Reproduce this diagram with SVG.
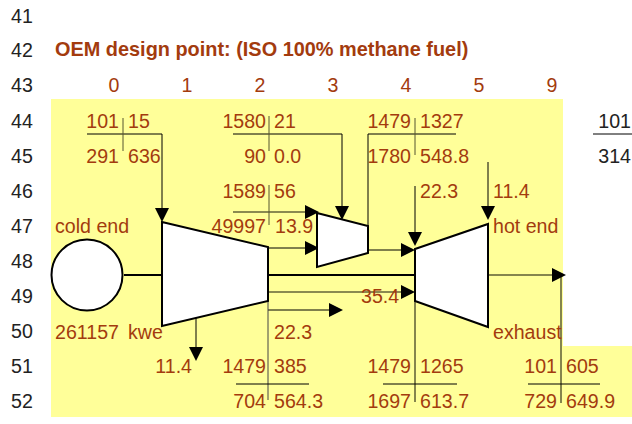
<svg xmlns="http://www.w3.org/2000/svg" width="632" height="424" viewBox="0 0 632 424">
<style>
text{font-family:"Liberation Sans",Arial,sans-serif;font-size:19.6px;fill:#a33b0e}
.g{fill:#222}
.e{text-anchor:end}
.m{text-anchor:middle}
.c{fill:none;stroke:#000;stroke-width:1}
.t{fill:none;stroke:#000;stroke-width:2}
.d{fill:none;stroke:#5c5c34;stroke-width:1.5}
.x{fill:none;stroke:#555530;stroke-width:1}
.l{fill:none;stroke:#8a8a50;stroke-width:2}
.s{fill:#fff;stroke:#000;stroke-width:2}
.a{fill:#000;stroke:none}
</style>
<defs>
<path id="dn" class="a" d="M-7-7H7L0 7Z"/>
<path id="rt" class="a" d="M-7-7L7 0L-7 7Z"/>
</defs>
<path d="M51 99H563V346H632V417H51Z" fill="#ffff99"/>
<g id="labels-rows">
<text class="g m" x="22" y="23">41</text>
<text class="g m" x="22" y="57">42</text>
<text class="g m" x="22" y="92">43</text>
<text class="g m" x="22" y="128">44</text>
<text class="g m" x="22" y="163">45</text>
<text class="g m" x="22" y="198">46</text>
<text class="g m" x="22" y="233">47</text>
<text class="g m" x="22" y="268">48</text>
<text class="g m" x="22" y="303">49</text>
<text class="g m" x="22" y="338">50</text>
<text class="g m" x="22" y="373">51</text>
<text class="g m" x="22" y="408">52</text>
</g>
<text x="55" y="56" font-weight="bold" style="font-size:19.9px">OEM design point: (ISO 100% methane fuel)</text>
<g id="labels-cols">
<text class="m" x="114" y="92">0</text>
<text class="m" x="187" y="92">1</text>
<text class="m" x="260" y="92">2</text>
<text class="m" x="333" y="92">3</text>
<text class="m" x="406" y="92">4</text>
<text class="m" x="479" y="92">5</text>
<text class="m" x="552" y="92">9</text>
</g>
<g id="connectors">
<path class="c" d="M87 134H162V214"/>
<path class="x" d="M123 118V151"/>
<path class="c" d="M233 134H342V212"/>
<path class="x" d="M269 116V151"/>
<path class="l" d="M233 212H310"/>
<path class="x" d="M269 185V225"/>
<path class="c" d="M456 134H368V226"/>
<path class="x" d="M415 118V155"/>
<path class="c" d="M415 186V240"/>
<path class="c" d="M488 162V214"/>
<path class="c" d="M268 248H312"/>
<path class="c" d="M368 250H408"/>
<path class="t" d="M124 275H162"/>
<path class="t" d="M268 275H415"/>
<path class="d" d="M488 275H558"/>
<path class="l" d="M268 292H409"/>
<path class="c" d="M268 310H332"/>
<path class="c" d="M268 301V400" style="stroke:#444"/>
<path class="c" d="M196 318V350"/>
<path class="c" d="M236 384H309"/>
<path class="d" d="M415 301V402"/>
<path class="c" d="M383 384H457"/>
<path class="d" d="M561 275V403"/>
<path class="c" d="M528 384H600"/>
<path class="c" d="M593 134H632"/>
<use href="#dn" x="162" y="215"/>
<use href="#dn" x="342" y="213"/>
<use href="#dn" x="415" y="239"/>
<use href="#dn" x="488" y="213"/>
<use href="#dn" x="196" y="354"/>
<use href="#rt" x="312" y="212"/>
<use href="#rt" x="312" y="248"/>
<use href="#rt" x="408" y="250"/>
<use href="#rt" x="408" y="292"/>
<use href="#rt" x="336" y="310"/>
<use href="#rt" x="559" y="275"/>
</g>
<g id="generator"><circle class="s" cx="87" cy="275" r="35.5"/></g>
<g id="compressor"><path class="s" d="M162 222L268 247V301L162 326Z"/></g>
<g id="turbine-hp"><path class="s" d="M317 213L368 226V253L317 267Z"/></g>
<g id="turbine-lp"><path class="s" d="M415 249L488 224V327L415 301Z"/></g>
<g id="values">
<text class="e" x="119" y="128">101</text><text x="128" y="128">15</text>
<text class="e" x="119" y="163">291</text><text x="128" y="163">636</text>
<text class="e" x="266" y="128">1580</text><text x="274" y="128">21</text>
<text class="e" x="266" y="163">90</text><text x="274" y="163">0.0</text>
<text class="e" x="266" y="198">1589</text><text x="274" y="198">56</text>
<text class="e" x="266" y="233">49997</text><text x="275" y="233">13.9</text>
<text class="e" x="411" y="128">1479</text><text x="420" y="128">1327</text>
<text class="e" x="411" y="163">1780</text><text x="420" y="163">548.8</text>
<text x="420" y="198">22.3</text>
<text x="493" y="198">11.4</text>
<text x="55" y="233">cold end</text>
<text x="493" y="233">hot end</text>
<text x="361" y="303">35.4</text>
<text x="274" y="339">22.3</text>
<text x="55" y="339">261157</text><text x="128" y="339">kwe</text>
<text x="493" y="339">exhaust</text>
<text class="e" x="192" y="373">11.4</text>
<text class="e" x="266" y="373">1479</text><text x="274" y="373">385</text>
<text class="e" x="266" y="408">704</text><text x="274" y="408">564.3</text>
<text class="e" x="411" y="373">1479</text><text x="420" y="373">1265</text>
<text class="e" x="411" y="408">1697</text><text x="420" y="408">613.7</text>
<text class="e" x="557" y="373">101</text><text x="566" y="373">605</text>
<text class="e" x="557" y="408">729</text><text x="566" y="408">649.9</text>
<text class="g e" x="631" y="128">101</text>
<text class="g e" x="631" y="163">314</text>
</g>
</svg>
